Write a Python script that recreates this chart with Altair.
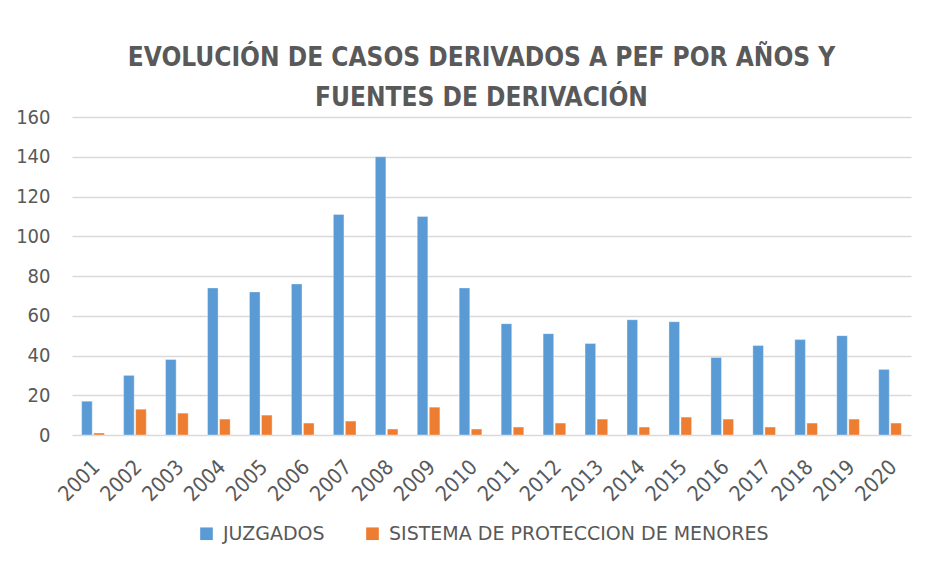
import altair as alt
import pandas as pd

years = [str(y) for y in range(2001, 2021)]
juzgados = [17, 30, 38, 74, 72, 76, 111, 140, 110, 74, 56, 51, 46, 58, 57, 39, 45, 48, 50, 33]
sistema = [1, 13, 11, 8, 10, 6, 7, 3, 14, 3, 4, 6, 8, 4, 9, 8, 4, 6, 8, 6]
series = ["JUZGADOS", "SISTEMA DE PROTECCION DE MENORES"]
colors = ["#5B9BD5", "#ED7D31"]
title_lines = ["EVOLUCIÓN DE CASOS DERIVADOS A PEF POR AÑOS Y", "FUENTES DE DERIVACIÓN"]

rows = []
for i, y in enumerate(years):
    rows.append({"year": y, "serie": series[0], "value": juzgados[i]})
    rows.append({"year": y, "serie": series[1], "value": sistema[i]})
df = pd.DataFrame(rows)

FONT = "DejaVu Sans Condensed, Open Sans, sans-serif"
LEG_FONT = "DejaVu Sans, sans-serif"
GREY = "#595959"

chart = alt.Chart(df).mark_bar(stroke="#FFFFFF", strokeOpacity=0.35, strokeWidth=1).encode(
    x=alt.X("year:N", sort=years,
            scale=alt.Scale(paddingInner=0.46, paddingOuter=0.23),
            axis=alt.Axis(title=None, labelAngle=-45, labelFontSize=21, labelColor=GREY,
                          labelFont=FONT, ticks=False, domain=False, labelPadding=21,
                          labelOffset=-4)),
    xOffset=alt.XOffset("serie:N", sort=series, scale=alt.Scale(paddingInner=0.12)),
    y=alt.Y("value:Q", scale=alt.Scale(domain=[0, 160]),
            axis=alt.Axis(title=None, values=list(range(0, 161, 20)), labelFontSize=20,
                          labelColor=GREY, labelFont=FONT, ticks=False, domain=False,
                          gridColor="#D9D9D9", gridWidth=1.5, labelPadding=22)),
    color=alt.Color("serie:N", sort=series,
                    scale=alt.Scale(domain=series, range=colors),
                    legend=alt.Legend(title=None, orient="none", direction="horizontal",
                                      legendX=125, legendY=407,
                                      symbolType="square", symbolSize=160, labelFontSize=19,
                                      labelFont=LEG_FONT, labelColor=GREY, columnPadding=38,
                                      labelLimit=0, labelOffset=7, symbolStrokeWidth=0)),
).properties(
    width=839,
    height=318,
    title=alt.TitleParams(text=title_lines, fontSize=26, font=FONT, fontWeight="bold",
                          color=GREY, anchor="middle", dx=-10, offset=-4, lineHeight=40),
    padding={"left": 64, "top": 109, "right": 15, "bottom": 120},
    autosize=alt.AutoSizeParams(type="none"),
).configure(background="#FFFFFF").configure_view(strokeWidth=0)

chart.save("out.html", embed_options={"renderer": "svg", "actions": False})
